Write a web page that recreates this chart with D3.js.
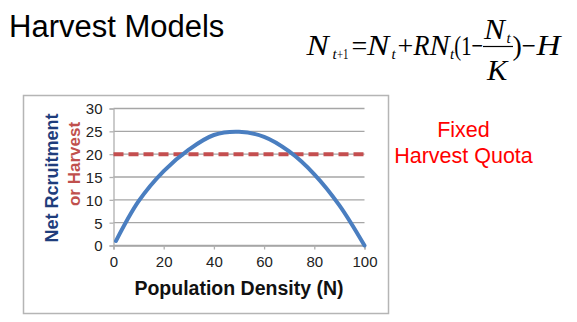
<!DOCTYPE html>
<html>
<head>
<meta charset="utf-8">
<script src="https://cdn.jsdelivr.net/npm/d3@7"></script>
<style>
  html, body { margin: 0; padding: 0; background: #fff; }
  svg { display: block; }
</style>
</head>
<body>
<svg id="chart" width="577" height="322"></svg>
<script>
// Population density (N) and net recruitment at that density
const density     = [1, 10, 20, 30, 40, 50, 60, 70, 80, 90, 100];
const recruitment = [1, 9.7, 16.3, 21, 24.2, 24.9, 23.8, 20.6, 15.6, 8.8, 0];

// Fixed harvest quota, drawn across the whole density range
const harvestQuota = 20;
const harvestRange = [0, 100];

const xTicks = [0, 20, 40, 60, 80, 100];
const yTicks = [0, 5, 10, 15, 20, 25, 30];

const svg = d3.select("#chart");
const sans = "'Liberation Sans', Arial, sans-serif";
const serif = "'Liberation Serif', 'Times New Roman', serif";

// Slide title
svg.append("text")
  .attr("x", 9).attr("y", 36.5)
  .attr("font-family", sans).attr("font-size", 31)
  .attr("fill", "#000")
  .text("Harvest Models");

// Harvest model equation, set piece by piece (k = horizontal scale of each run)
const eq = svg.append("g").attr("font-family", serif).attr("fill", "#000");
const eqParts = [
  { t: "N",   x: 306.5, y: 55, s: 29, it: true, k: 1.15 },
  { t: "t",   x: 332.5, y: 59, s: 15, it: true, k: 1 },
  { t: "+1",  x: 337, y: 59, s: 15, it: false, k: 0.72 },
  { t: "=",   x: 351.5, y: 55, s: 28, it: false, k: 1 },
  { t: "N",   x: 367, y: 55, s: 29, it: true, k: 1.15 },
  { t: "t",   x: 391.5, y: 59, s: 15, it: true, k: 1 },
  { t: "+",   x: 397.5, y: 55, s: 28, it: false, k: 1 },
  { t: "R",   x: 413.5, y: 55, s: 29, it: true, k: 0.9 },
  { t: "N",   x: 429.5, y: 55, s: 29, it: true, k: 1.04 },
  { t: "t",   x: 450, y: 59, s: 15, it: true, k: 1 },
  { t: "(1\u2212", x: 454.3, y: 55, s: 28, it: false, k: 0.74 },
  { t: "N",   x: 484, y: 39, s: 29, it: true, k: 1.08 },
  { t: "t",   x: 506.5, y: 43, s: 15, it: true, k: 1 },
  { t: "K",   x: 487, y: 80, s: 29, it: true, k: 1.05 },
  { t: ")",   x: 512.5, y: 55, s: 28, it: false, k: 1 },
  { t: "\u2212", x: 521.8, y: 55, s: 28, it: false, k: 0.9 },
  { t: "H",   x: 536.5, y: 55, s: 30, it: true, k: 1.1 }
];
eq.selectAll("text").data(eqParts).join("text")
  .attr("transform", d => `translate(${d.x},${d.y}) scale(${d.k},1)`)
  .attr("font-size", d => d.s)
  .attr("font-style", d => d.it ? "italic" : "normal")
  .text(d => d.t);
eq.append("line")
  .attr("x1", 483).attr("x2", 513).attr("y1", 46.5).attr("y2", 46.5)
  .attr("stroke", "#000").attr("stroke-width", 1.2);

// Annotation
const note = svg.append("text")
  .attr("font-family", sans).attr("font-size", 21.5)
  .attr("fill", "#ff0000").attr("text-anchor", "middle");
note.append("tspan").attr("x", 463.5).attr("y", 137).text("Fixed");
note.append("tspan").attr("x", 463.5).attr("y", 163).text("Harvest Quota");

// Chart frame
svg.append("rect")
  .attr("x", 23.5).attr("y", 95.5).attr("width", 365).attr("height", 218)
  .attr("fill", "#fff").attr("stroke", "#b5b5b5").attr("stroke-width", 1.5);

// Scales
const x = d3.scaleLinear().domain([0, 100]).range([113.5, 364.5]);
const y = d3.scaleLinear().domain([0, 30]).range([245.5, 108.5]);

// Horizontal gridlines
svg.append("g").selectAll("line").data(yTicks).join("line")
  .attr("x1", x(0)).attr("x2", x(100))
  .attr("y1", d => y(d)).attr("y2", d => y(d))
  .attr("stroke", "#a6a6a6").attr("stroke-width", 1.3);

// Y axis
const yAxis = svg.append("g")
  .attr("transform", `translate(${x(0)},0)`)
  .call(d3.axisLeft(y).tickValues(yTicks).tickSize(4).tickPadding(7));
yAxis.select(".domain").attr("stroke", "#b0b0b0").attr("stroke-width", 1.3);
yAxis.selectAll(".tick line").attr("stroke", "#b0b0b0").attr("stroke-width", 1.3);
yAxis.selectAll(".tick text")
  .attr("font-family", sans).attr("font-size", 15).attr("fill", "#222")
  .attr("dy", "0.36em");

// X axis
const xAxis = svg.append("g")
  .attr("transform", `translate(0,${y(0)})`)
  .call(d3.axisBottom(x).tickValues(xTicks).tickSize(4).tickPadding(7));
xAxis.select(".domain").attr("stroke", "#a6a6a6").attr("stroke-width", 1.3);
xAxis.selectAll(".tick line").attr("stroke", "#b0b0b0").attr("stroke-width", 1.3);
xAxis.selectAll(".tick text")
  .attr("font-family", sans).attr("font-size", 15).attr("fill", "#222");

// Harvest quota line
svg.append("line")
  .attr("x1", x(harvestRange[0])).attr("x2", x(harvestRange[1]))
  .attr("y1", y(harvestQuota)).attr("y2", y(harvestQuota))
  .attr("stroke", "#c44e4f").attr("stroke-width", 4)
  .attr("stroke-dasharray", "10,5");

// Recruitment curve
const line = d3.line()
  .x((d, i) => x(density[i]))
  .y(d => y(d))
  .curve(d3.curveCatmullRom.alpha(0.5));
svg.append("path")
  .datum(recruitment)
  .attr("d", line)
  .attr("fill", "none")
  .attr("stroke", "#4a7ec0").attr("stroke-width", 4)
  .attr("stroke-linecap", "round");

// Axis titles
svg.append("text")
  .attr("transform", "translate(58,178) rotate(-90)")
  .attr("text-anchor", "middle")
  .attr("font-family", sans).attr("font-size", 18).attr("font-weight", "bold")
  .attr("fill", "#1f3d7c")
  .text("Net Rcruitment");
svg.append("text")
  .attr("transform", "translate(80,164) rotate(-90)")
  .attr("text-anchor", "middle")
  .attr("font-family", sans).attr("font-size", 17).attr("font-weight", "bold")
  .attr("fill", "#c0504d")
  .text("or Harvest");
svg.append("text")
  .attr("x", 239).attr("y", 295)
  .attr("text-anchor", "middle")
  .attr("font-family", sans).attr("font-size", 19.5).attr("font-weight", "bold")
  .attr("fill", "#111")
  .text("Population Density (N)");
</script>
</body>
</html>
